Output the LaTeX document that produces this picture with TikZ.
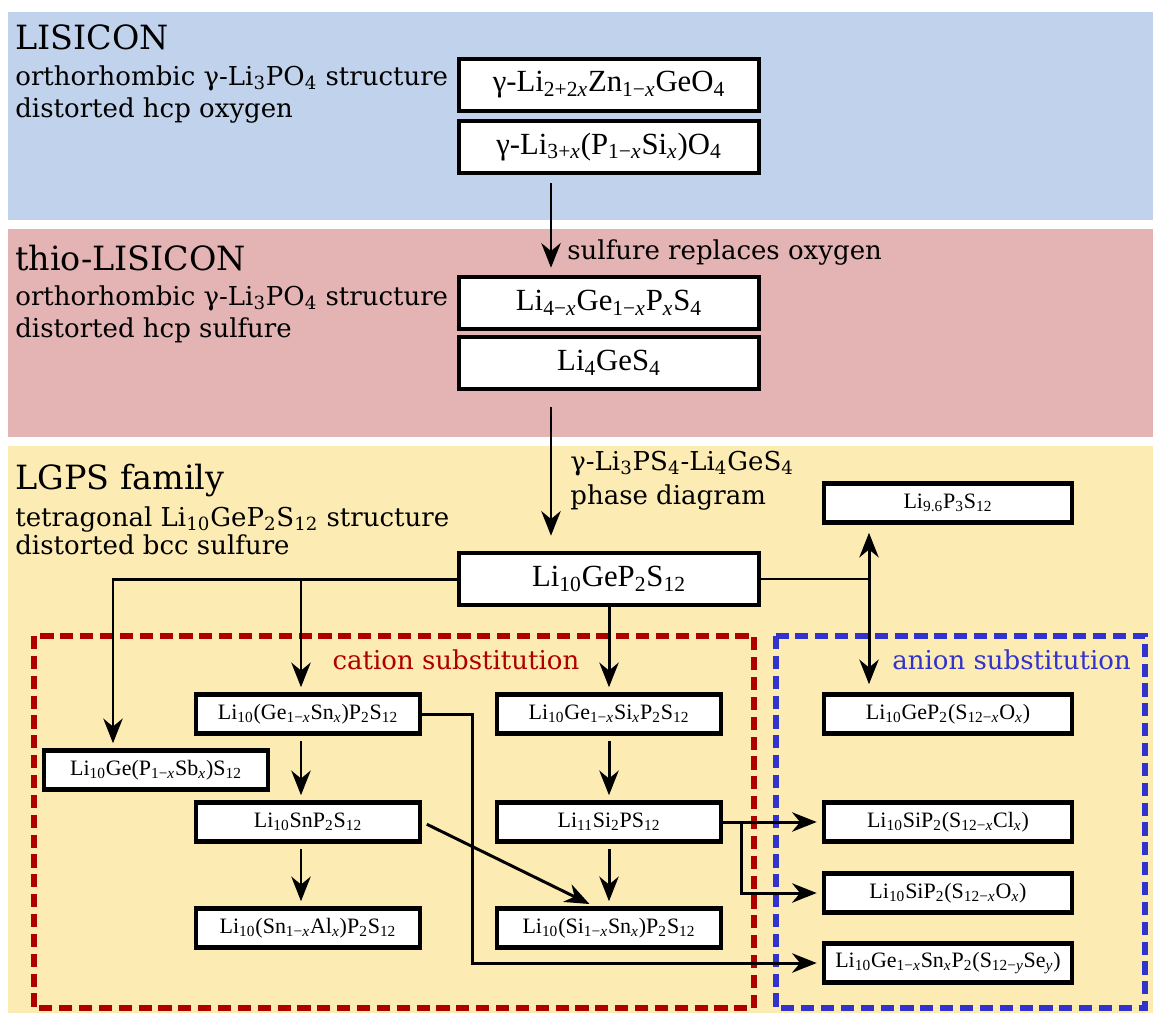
\documentclass[tikz,border=0pt]{standalone}
\usepackage{fontspec}
\setmainfont{Liberation Serif}
\newfontfamily\descfont{DejaVu Serif}
\usepackage{tikz}
\usetikzlibrary{arrows.meta, positioning}

\definecolor{lisiblue}{RGB}{193,211,236}
\definecolor{thiopink}{RGB}{228,179,179}
\definecolor{lgpsyellow}{RGB}{252,236,180}
\definecolor{cationred}{RGB}{175,0,0}
\definecolor{anionblue}{RGB}{50,50,205}

\newcommand{\lo}[1]{\textsubscript{#1}}
\newcommand{\xx}{\textit{x}}

\tikzset{>={Stealth[length=14pt, width=11pt, inset=4.5pt]}}
\tikzstyle{phase} = [draw, line width=2.6pt, fill=white, minimum width=6cm, minimum height=1.04cm, inner sep=0pt, font=\fontsize{17.5}{20}\selectfont]
\tikzstyle{compound} = [draw, line width=2.6pt, fill=white, minimum width=4.48cm, minimum height=0.78cm, inner sep=0pt, font=\fontsize{12.5}{15}\selectfont]
\tikzstyle{widecompound} = [compound, minimum width=4.96cm]
\tikzstyle{famtitle} = [anchor=base west, inner sep=0pt, font=\descfont\fontsize{19}{22}\selectfont]
\tikzstyle{descr} = [anchor=base west, inner sep=0pt, font=\descfont\fontsize{14.8}{18}\selectfont]
\tikzstyle{wire} = [line width=1.3pt]
\tikzstyle{flow} = [line width=1.7pt, ->, shorten >=0.1cm]
\tikzstyle{substframe} = [line width=3.2pt, dash pattern=on 7.5pt off 3.8pt]

\begin{document}
\begin{tikzpicture}
	\useasboundingbox (0, 0) rectangle (23.06, -20.34);

	% background bands
	\fill [lisiblue] (0.16, -0.24) rectangle (23.06, -4.40);
	\fill [thiopink] (0.16, -4.58) rectangle (23.06, -8.74);
	\fill [lgpsyellow] (0.16, -8.92) rectangle (23.06, -20.26);

	% LISICON
	\node (Lisicon) [famtitle] at (0.3, -0.98) {LISICON};
	\node (LisiStruct) [descr] at (0.3, -1.70) {orthorhombic γ-Li\lo{3}PO\lo{4} structure};
	\node (LisiAnion) [descr] at (0.3, -2.34) {distorted hcp oxygen};
	\node (Zn) [phase] at (12.18, -1.70) {γ-Li\lo{2+2\xx}Zn\lo{1−\xx}GeO\lo{4}};
	\node (PSi) [phase] at (12.18, -2.94) {γ-Li\lo{3+\xx}(P\lo{1−\xx}Si\lo{\xx})O\lo{4}};

	% thio-LISICON
	\node (Thio) [famtitle] at (0.3, -5.40) {thio-LISICON};
	\node (ThioStruct) [descr] at (0.3, -6.10) {orthorhombic γ-Li\lo{3}PO\lo{4} structure};
	\node (ThioAnion) [descr] at (0.3, -6.74) {distorted hcp sulfure};
	\node (GeP) [phase] at (12.18, -6.06) {Li\lo{4−\xx}Ge\lo{1−\xx}P\lo{\xx}S\lo{4}};
	\node (GeS) [phase] at (12.18, -7.26) {Li\lo{4}GeS\lo{4}};

	\draw [flow] ([xshift=-1.16cm, yshift=-0.16cm]PSi.south) -- ([xshift=-1.16cm, yshift=0.04cm]GeP.north);
	\node (Sulfure) [descr] at (11.34, -5.18) {sulfure replaces oxygen};

	% LGPS family
	\node (Lgps) [famtitle] at (0.3, -9.78) {LGPS family};
	\node (LgpsStruct) [descr] at (0.3, -10.52) {tetragonal Li\lo{10}GeP\lo{2}S\lo{12} structure};
	\node (LgpsAnion) [descr] at (0.3, -11.08) {distorted bcc sulfure};
	\node (LGPS) [phase] at (12.18, -11.58) {Li\lo{10}GeP\lo{2}S\lo{12}};

	\draw [flow] ([xshift=-1.16cm, yshift=-0.32cm]GeS.south) -- ([xshift=-1.16cm, yshift=0.2cm]LGPS.north);
	\node (PhaseDiag) [descr] at (11.40, -9.40) {γ-Li\lo{3}PS\lo{4}-Li\lo{4}GeS\lo{4}};
	\node (PhaseDiag2) [descr] at (11.40, -10.08) {phase diagram};

	% substitution frames
	\draw [substframe, cationred] (0.68, -12.72) rectangle (15.08, -20.16);
	\draw [substframe, anionblue] (15.52, -12.72) rectangle (22.90, -20.16);
	\node (Cation) [descr, anchor=base, text=cationred] at (9.12, -13.38) {cation substitution};
	\node (Anion) [descr, text=anionblue] at (17.84, -13.38) {anion substitution};

	% compounds
	\node (Li96) [widecompound] at (18.96, -10.06) {Li\lo{9.6}P\lo{3}S\lo{12}};
	\node (GeSn) [compound] at (6.16, -14.28) {Li\lo{10}(Ge\lo{1−\xx}Sn\lo{\xx})P\lo{2}S\lo{12}};
	\node (GeSi) [compound] at (12.18, -14.28) {Li\lo{10}Ge\lo{1−\xx}Si\lo{\xx}P\lo{2}S\lo{12}};
	\node (GeO) [widecompound] at (18.96, -14.28) {Li\lo{10}GeP\lo{2}(S\lo{12−\xx}O\lo{\xx})};
	\node (PSb) [compound] at (3.12, -15.40) {Li\lo{10}Ge(P\lo{1−\xx}Sb\lo{\xx})S\lo{12}};
	\node (SnP) [compound] at (6.16, -16.44) {Li\lo{10}SnP\lo{2}S\lo{12}};
	\node (SiPS) [compound] at (12.18, -16.44) {Li\lo{11}Si\lo{2}PS\lo{12}};
	\node (SiCl) [widecompound] at (18.96, -16.44) {Li\lo{10}SiP\lo{2}(S\lo{12−\xx}Cl\lo{\xx})};
	\node (SiO) [widecompound] at (18.96, -17.86) {Li\lo{10}SiP\lo{2}(S\lo{12−\xx}O\lo{\xx})};
	\node (SnAl) [compound] at (6.16, -18.56) {Li\lo{10}(Sn\lo{1−\xx}Al\lo{\xx})P\lo{2}S\lo{12}};
	\node (SiSn) [compound] at (12.18, -18.56) {Li\lo{10}(Si\lo{1−\xx}Sn\lo{\xx})P\lo{2}S\lo{12}};
	\node (GeSe) [widecompound] at (18.96, -19.26) {Li\lo{10}Ge\lo{1−\xx}Sn\lo{\xx}P\lo{2}(S\lo{12−\textit{y}}Se\lo{\textit{y}})};

	% connections from LGPS
	\coordinate (Split) at (17.38, -11.58);
	\draw [flow] (LGPS.west) -| ([xshift=-0.86cm]PSb.north);
	\draw [flow] ([xshift=-0.14cm]GeSn.north |- LGPS.west) -- ([xshift=-0.14cm]GeSn.north);
	\draw [flow] (LGPS.south) -- (GeSi.north);
	\draw [wire] (LGPS.east) -- (Split);
	\draw [flow, <->, shorten <=0.16cm, shorten >=0.16cm] (Split |- Li96.south) -- (Split |- GeO.north);

	% cation substitution
	\draw [flow, shorten <=0.1cm] ([xshift=-0.14cm]GeSn.south) -- ([xshift=-0.14cm]SnP.north);
	\draw [flow, shorten <=0.1cm] ([xshift=-0.14cm]SnP.south) -- ([xshift=-0.14cm]SnAl.north);
	\draw [flow, shorten <=0.1cm] (GeSi.south) -- (SiPS.north);
	\draw [flow, shorten <=0.1cm] (SiPS.south) -- (SiSn.north);
	\draw [flow, shorten <=0.1cm] (SnP.east) -- ([xshift=-0.3cm]SiSn.north);

	% anion substitution
	\draw [flow] (GeSn.east) -- ++(1.0, 0) |- (GeSe.west);
	\draw [flow] (SiPS.east) -- (SiCl.west);
	\draw [flow] ([xshift=0.36cm]SiPS.east) |- (SiO.west);
\end{tikzpicture}
\end{document}
